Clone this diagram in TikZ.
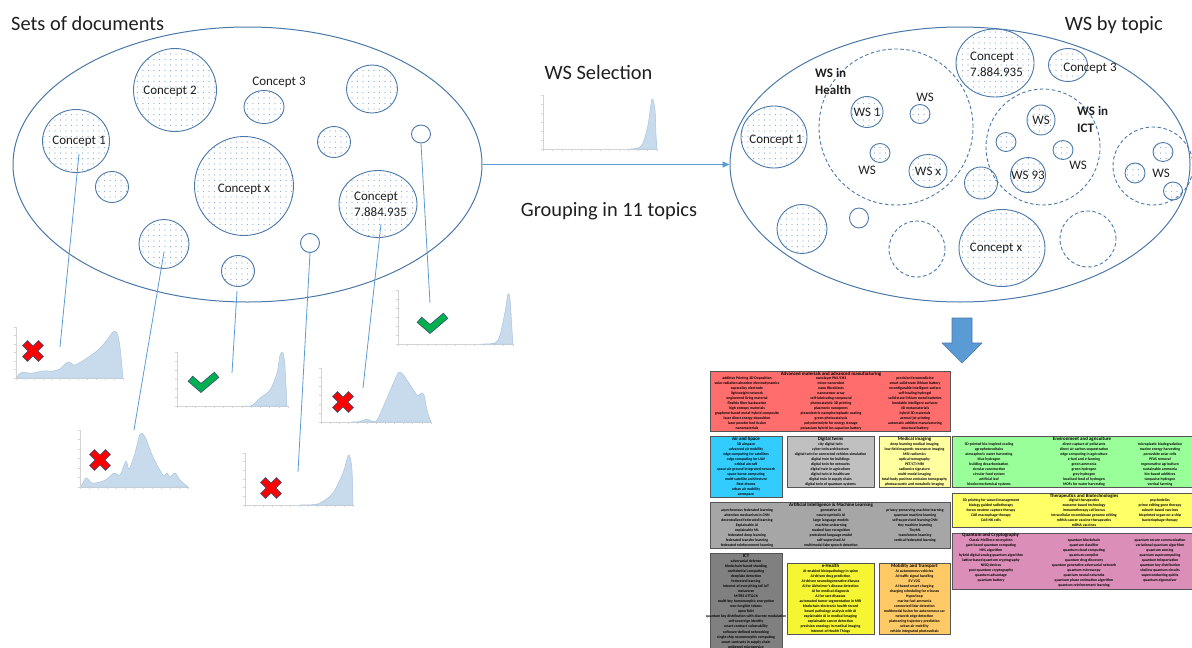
\documentclass[tikz,border=0pt]{standalone}
\usepackage{fontspec}
\setmainfont{Carlito}
\usetikzlibrary{shapes.geometric,arrows.meta,patterns.meta}
\definecolor{eline}{HTML}{4A78A8}
\definecolor{conn}{HTML}{5B9BD5}
\definecolor{dotc}{HTML}{86A8D4}
\definecolor{chfill}{HTML}{C8DBEC}
\definecolor{chline}{HTML}{A9C5E0}
\definecolor{axc}{HTML}{D4D4D4}
\definecolor{xout}{HTML}{3D4C6B}
\definecolor{xred}{HTML}{FF0000}
\definecolor{vgreen}{HTML}{00B050}
\definecolor{barrow}{HTML}{5B9BD5}
\definecolor{cRed}{HTML}{FF6D6D}
\definecolor{cBlue}{HTML}{33CCFF}
\definecolor{cLG}{HTML}{C0C0C0}
\definecolor{cMed}{HTML}{FFFFA0}
\definecolor{cEnv}{HTML}{99FF99}
\definecolor{cThe}{HTML}{FFFF66}
\definecolor{cQua}{HTML}{DA8EB8}
\definecolor{cAI}{HTML}{A6A6A6}
\definecolor{cICT}{HTML}{808080}
\definecolor{cEH}{HTML}{F5F533}
\definecolor{cMob}{HTML}{FFC966}
\definecolor{boxb}{HTML}{555555}
\newcommand{\chartax}[4]{%
  \draw[axc, line width=0.6pt] (#1,#2) -- (#1,#4) -- (#3,#4);
  \foreach \k in {0,...,12} {\draw[axc, line width=0.4pt] ({#1+\k*(#3-#1)/12},#4) -- ++(0,2);}
  \foreach \k in {0,...,6} {\draw[axc, line width=0.4pt] (#1,{#4-\k*(#4-#2)/6}) -- ++(-2,0);}
}
\tikzset{
  bub/.style={ellipse, draw=eline, line width=0.9pt, inner sep=0pt, pattern={Dots[distance=5.5pt,radius=0.65pt]}, pattern color=dotc},
  plainc/.style={ellipse, draw=eline, line width=0.9pt, inner sep=0pt},
  dashc/.style={ellipse, draw=eline, line width=0.9pt, inner sep=0pt, dash pattern=on 3.5pt off 2.5pt},
  bigell/.style={ellipse, draw=eline, line width=1pt, inner sep=0pt},
  head/.style={font=\fontsize{20.4}{24}\selectfont, text=black!88, inner sep=0pt},
  clbl/.style={font=\fontsize{13}{16}\selectfont, text=black!88, inner sep=0pt, align=center},
  clblb/.style={font=\fontsize{13}{16.5}\selectfont\bfseries, text=black!88, inner sep=0pt},
  link/.style={draw=conn, line width=0.8pt},
  chartfill/.style={fill=chfill, draw=chline, line width=0.5pt},
  tbox/.style={draw=boxb, line width=0.9pt, anchor=north west, inner sep=0pt},
  ttl/.style={font=\fontsize{4.9}{5}\selectfont\bfseries, inner sep=0pt},
  itm/.style={font=\fontsize{3.8}{5.07}\selectfont\bfseries, align=center, inner sep=0pt, anchor=north},
  pics/nox/.style={code={
    \draw[xout, line width=7.5pt, line cap=rect] (-5.5,-5.5) -- (5.5,5.5) (-5.5,5.5) -- (5.5,-5.5);
    \draw[xred, line width=6pt, line cap=rect] (-5.5,-5.5) -- (5.5,5.5) (-5.5,5.5) -- (5.5,-5.5);
  }},
  pics/yes/.style={code={
    \draw[xout, line width=7.5pt, line cap=rect, line join=miter] (-10,-1) -- (-2,6) -- (11,-5);
    \draw[vgreen, line width=6pt, line cap=rect, line join=miter] (-10,-1) -- (-2,6) -- (11,-5);
  }},
}
\begin{document}
\begin{tikzpicture}[x=1pt,y=-1pt]
\useasboundingbox (0,0) rectangle (1192,648);
\clip (0,0) rectangle (1192,648);

% headings
\node[head, anchor=base west] (hL) at (11,30) {Sets of documents};
\node[head, anchor=base east] (hR) at (1163,30) {WS by topic};
\node[head, anchor=base] (hS) at (598.5,79) {WS Selection};
\node[head, anchor=base] (hG) at (609,216) {Grouping in 11 topics};

% big ellipses
\node[bigell, minimum width=469pt, minimum height=275pt] (setL) at (247.5,164.5) {};
\node[bigell, minimum width=460pt, minimum height=275pt] (setR) at (960,164.5) {};
\draw[link, line width=0.9pt, -{Triangle[length=7pt,width=6pt]}] (setL.east) -- (setR.west);

% left concepts
\node[bub, minimum width=67pt, minimum height=63pt] (lc1) at (76,141) {};
\node[bub, minimum width=83pt, minimum height=83pt] (lc2) at (175,90) {};
\node[bub, minimum width=40pt, minimum height=33pt] (lc3) at (264,107) {};
\node[bub, minimum width=51pt, minimum height=48pt] (lur) at (372,89) {};
\node[bub, minimum width=33pt, minimum height=31pt] (lm) at (334,142) {};
\node[plainc, minimum width=19pt, minimum height=18pt] (lt1) at (421,134) {};
\node[bub, minimum width=99pt, minimum height=99pt] (lcx) at (244,186) {};
\node[bub, minimum width=78pt, minimum height=67pt] (lc7) at (378,204) {};
\node[bub, minimum width=33pt, minimum height=31pt] (ls) at (112,187) {};
\node[bub, minimum width=50pt, minimum height=49pt] (lb1) at (164,244) {};
\node[bub, minimum width=33pt, minimum height=31pt] (lb2) at (238,271) {};
\node[plainc, minimum width=19pt, minimum height=19pt] (lt2) at (310,243) {};
\node[clbl] (tl1) at (79,141) {Concept 1};
\node[clbl] (tl2) at (170,91) {Concept 2};
\node[clbl] (tl3) at (279,82) {Concept 3};
\node[clbl] (tlx) at (244,189) {Concept x};
\node[clbl, align=left, anchor=west] (tl7) at (354,204) {Concept\\7.884.935};

% charts
\chartax{16}{327}{123}{378}
\fill[chartfill] plot[smooth] coordinates {(17,378) (18,375) (23,372) (28,373) (33,373) (43,371) (53,371) (60,369) (68,362) (75,365) (87,358) (98,350) (107,340) (113,332) (117,333) (120,347) (123,378)} -- cycle;
\chartax{80}{430}{188}{487}
\fill[chartfill] plot[smooth] coordinates {(81,487) (86,478) (92,483) (100,482) (107,479) (114,473) (120,475) (126,461) (129,469) (135,453) (140,434) (145,437) (153,457) (163,475) (167,473) (170,477) (175,473) (180,480) (188,487)} -- cycle;
\chartax{177}{352}{288}{406}
\fill[chartfill] plot[smooth] coordinates {(243,406) (252,405.5) (260,398) (270,390) (277,373) (280,355) (283,353) (285,367) (287,406)} -- cycle;
\chartax{245}{453}{353}{505}
\fill[chartfill] plot[smooth] coordinates {(300,505) (315,504.5) (322,502) (333,493) (343,473) (348,456) (350,457) (352,470) (353,505)} -- cycle;
\chartax{321}{368}{431}{422}
\fill[chartfill] plot[smooth] coordinates {(352,422) (360,421.5) (367,419) (371,421) (377,420) (387,398) (397,375) (400,372) (405,377) (417,395) (421,393) (424,395) (427,410) (431,422)} -- cycle;
\chartax{398}{290}{513}{344}
\fill[chartfill] plot[smooth] coordinates {(480,344) (495,343) (500,335) (505,312) (508,294) (510,299) (512,330) (513,344)} -- cycle;
\chartax{543}{95}{657}{149}
\fill[chartfill] plot[smooth] coordinates {(630,149) (638,148) (643,143) (648,125) (652,99) (655,110) (656,135) (657,149)} -- cycle;

% icons
\pic at (33,351) {nox};
\pic at (100,460) {nox};
\pic at (203,382) {yes};
\pic at (271,488) {nox};
\pic at (343,402) {nox};
\pic at (432,323) {yes};

% connectors
\coordinate (s1) at (79,154); \coordinate (e1) at (60,347);
\coordinate (s2) at (164,252); \coordinate (e2) at (134,430);
\coordinate (s3) at (237,291); \coordinate (e3) at (232,373);
\coordinate (e4) at (298,472);
\coordinate (s5) at (381,224); \coordinate (e5) at (363,388);
\coordinate (e6) at (430,303);
\draw[link] (s1) -- (e1);
\draw[link] (s2) -- (e2);
\draw[link] (s3) -- (e3);
\draw[link] (lt2.south) -- (e4);
\draw[link] (s5) -- (e5);
\draw[link] (lt1.south) -- (e6);

% right ellipse content
\node[bub, minimum width=66pt, minimum height=62pt] (rc1) at (774,137) {};
\node[dashc, minimum width=154pt, minimum height=156pt] (hDash) at (896,127) {};
\node[bub, minimum width=32pt, minimum height=31pt] (ws1) at (867,112) {};
\node[bub, minimum width=20pt, minimum height=19pt] (wsA) at (920,114) {};
\node[bub, minimum width=20pt, minimum height=19pt] (wsB) at (880,153) {};
\node[bub, minimum width=38pt, minimum height=33pt] (wsx) at (928,171) {};
\node[bub, minimum width=78pt, minimum height=68pt] (rc7) at (995,63) {};
\node[bub, minimum width=39pt, minimum height=33pt] (rc3) at (1068,65) {};
\node[dashc, minimum width=114pt, minimum height=116pt] (iDash) at (1043,147) {};
\node[bub, minimum width=28pt, minimum height=30pt] (wsC) at (1041,120) {};
\node[bub, minimum width=20pt, minimum height=19pt] (wsD) at (1006,142) {};
\node[bub, minimum width=20pt, minimum height=19pt] (wsE) at (1063,150) {};
\node[bub, minimum width=35pt, minimum height=35pt] (ws93) at (1028,175) {};
\node[bub, minimum width=33pt, minimum height=32pt] (rcm) at (981,183) {};
\node[dashc, minimum width=80pt, minimum height=78pt] (oDash) at (1153,166) {};
\node[bub, minimum width=20pt, minimum height=19pt] (wsF) at (1163,152) {};
\node[bub, minimum width=20pt, minimum height=20pt] (wsG) at (1135,173) {};
\node[bub, minimum width=19pt, minimum height=18pt] (wsH) at (1173,191) {};
\node[bub, minimum width=50pt, minimum height=49pt] (rb1) at (802,229) {};
\node[plainc, minimum width=19pt, minimum height=20pt] (rt1) at (859,218) {};
\node[dashc, minimum width=56pt, minimum height=56pt] (dB1) at (917,249) {};
\node[bub, minimum width=86pt, minimum height=77pt] (rcx) at (1002,248) {};
\node[dashc, minimum width=56pt, minimum height=56pt] (dB2) at (1088,239) {};

\node[clbl] (tr1) at (776,140) {Concept 1};
\node[clbl, align=left, anchor=west] (tr7) at (970,64.5) {Concept\\7.884.935};
\node[clbl] (tr3) at (1090,68) {Concept 3};
\node[clbl] (trx) at (996,248) {Concept x};
\node[clblb, align=left, anchor=west] (tHe) at (815,81.5) {WS in\\Health};
\node[clblb, align=left, anchor=west] (tIc) at (1077,119.5) {WS in\\ICT};
\node[clbl] (tws1) at (ws1) {WS 1};
\node[clbl] (twsx) at (wsx) {WS x};
\node[clbl] (tws93) at (ws93) {WS 93};
\node[clbl] (twsc) at (wsC) {WS};
\node[clbl] (twsa) at (925,97) {WS};
\node[clbl] (twsb) at (867,170) {WS};
\node[clbl] (twse) at (1078,165) {WS};
\node[clbl] (twsf) at (1161,173) {WS};

% block arrow down
\draw[draw=eline, line width=0.6pt, fill=barrow] (952,318) -- (972,318) -- (972,343) -- (982,343) -- (962,363) -- (942,343) -- (952,343) -- cycle;

% topic boxes
\node[tbox, fill=cRed, minimum width=240pt, minimum height=60pt] (bAM) at (710,371) {};
\node[ttl] (tAM) at (831,374) {Advanced materials and advanced manufacturing};
\node[itm] (aAM1) at (747,376.2) {additive Printing 3D Deposition\\solar radiation absorber electrodynamics\\superalloy electrode\\lightweight network\\engineered living material\\flexible fiber backscatter\\high entropy materials\\graphene-based metal-hybrid composite\\laser direct energy deposition\\laser powder bed fusion\\nanomaterials};
\node[itm] (aAM2) at (831,376.2) {nanolayer PbS/CH3\\micro-nanorobot\\nano fibroblasts\\nanosensor array\\self-lubricating compound\\photocatalytic 3D printing\\plasmonic nanopores\\piezoelectric nanophotoplastic coating\\green photocatalysis\\polyelectrolyte for energy storage\\potassium hybrid ion capacitor battery};
\node[itm] (aAM3) at (915,376.2) {precision ferromedicine\\smart solid-state lithium battery\\reconfigurable intelligent surface\\self-healing hydrogel\\solid-state lithium metal batteries\\bendable intelligent surfaces\\4D metamaterials\\hybrid 3D materials\\aerosol jet printing\\automatic additive manufacturing\\structural battery};

\node[tbox, fill=cBlue, minimum width=72pt, minimum height=61pt] (bAS) at (710,436) {};
\node[ttl] (tAS) at (746,439) {Air and Space};
\node[itm] (aAS) at (746,442.2) {3D airspace\\advanced air mobility\\edge computing for satellites\\edge computing for UAV\\orbital aircraft\\space-air-ground integrated network\\space-borne computing\\multi-satellite architecture\\fleet drones\\urban air mobility\\aerospace};

\node[tbox, fill=cLG, minimum width=87pt, minimum height=51pt] (bDT) at (787,436) {};
\node[ttl] (tDT) at (830.5,439) {Digital twins};
\node[itm] (aDT) at (830.5,442.2) {city digital twin\\cyber twin architecture\\digital twin for connected vehicles simulation\\digital twin for buildings\\digital twin for networks\\digital twin in agriculture\\digital twin in healthcare\\digital twin in supply chain\\digital twin of quantum systems};

\node[tbox, fill=cMed, minimum width=71pt, minimum height=51pt] (bMI) at (879,436) {};
\node[ttl] (tMI) at (914.5,439) {Medical imaging};
\node[itm] (aMI) at (914.5,442.2) {deep learning medical imaging\\low-field magnetic resonance imaging\\MRI radiomics\\optical tomography\\PET/CT/MRI\\radiomics signature\\multi-modal imaging\\total-body positron emission tomography\\photoacoustic and metabolic imaging};

\node[tbox, fill=cEnv, minimum width=262pt, minimum height=51pt] (bEA) at (952,436) {};
\node[ttl] (tEA) at (1082,439) {Environment and agriculture};
\node[itm] (aEA1) at (989,442.2) {3D-printed bio-inspired cooling\\agrophotovoltaics\\atmospheric water harvesting\\blue hydrogen\\building decarbonization\\circular construction\\circular food system\\artificial leaf\\bioelectrochemical systems};
\node[itm] (aEA2) at (1084,442.2) {direct capture of pollutants\\direct air carbon sequestration\\edge computing in agriculture\\e-fuel and e-farming\\green ammonia\\green hydrogen\\grey hydrogen\\localised food of hydrogen\\MOFs for water harvesting};
\node[itm] (aEA3) at (1160,442.2) {microplastic biodegradation\\marine energy harvesting\\perovskite solar cells\\PFAS removal\\regenerative agriculture\\sustainable ammonia\\bio-based additives\\turquoise hydrogen\\vertical farming};

\node[tbox, fill=cThe, minimum width=263pt, minimum height=34pt] (bTB) at (952,493) {};
\node[ttl] (tTB) at (1084,496) {Therapeutics and Biotechnologies};
\node[itm] (aTB1) at (991,498.2) {3D printing for wound management\\biology guided radiotherapy\\boron neutron capture therapy\\CAR macrophage therapy\\CAR NK cells};
\node[itm] (aTB2) at (1084,498.2) {digital therapeutics\\exosome-based technology\\immunotherapy cell bonus\\intracellular recombinase genome editing\\mRNA cancer vaccine therapeutics\\mRNA vaccines};
\node[itm] (aTB3) at (1160,498.2) {psychedelics\\prime editing gene therapy\\subunit-based vaccines\\bioprinted organ-on-a-chip\\bacteriophage therapy};

\node[tbox, fill=cQua, minimum width=263pt, minimum height=56pt] (bQC) at (952,533) {};
\node[ttl, anchor=west] (tQC) at (962,535.5) {Quantum and Cryptography};
\node[itm] (aQC1) at (991,538.2) {Classic McEliece encryption\\gate based quantum computing\\HHL algorithm\\hybrid digital-analog quantum algorithm\\lattice-based quantum cryptography\\NISQ devices\\post-quantum cryptography\\quantum advantage\\quantum battery};
\node[itm] (aQC2) at (1084,538.2) {quantum blockchain\\quantum classifier\\quantum cloud computing\\quantum compiler\\quantum drug discovery\\quantum generative adversarial network\\quantum microscopy\\quantum neural networks\\quantum phase estimation algorithm\\quantum reinforcement learning};
\node[itm] (aQC3) at (1160,538.2) {quantum secure communication\\variational quantum algorithm\\quantum sensing\\quantum supercomputing\\quantum teleportation\\quantum key distribution\\shallow quantum circuits\\superconducting qubits\\quantum eigensolver};

\node[tbox, fill=cAI, minimum width=240pt, minimum height=46pt] (bAI) at (710,502) {};
\node[ttl] (tAI) at (831,505) {Artificial Intelligence \& Machine Learning};
\node[itm] (aAI1) at (747,508.2) {asynchronous federated learning\\attention mechanism in CNN\\decentralized federated learning\\Explainable AI\\explainable ML\\federated deep learning\\federated transfer learning\\federated reinforcement learning};
\node[itm] (aAI2) at (831,508.2) {generative AI\\neuro-symbolic AI\\large language models\\machine unlearning\\masked face recognition\\pretrained language model\\self-supervised AI\\multimodal fake speech detection};
\node[itm] (aAI3) at (915,508.2) {privacy-preserving machine learning\\quantum machine learning\\self-supervised learning CNN\\tiny machine learning\\TinyML\\transformer learning\\vertical federated learning};

\node[tbox, fill=cICT, minimum width=72pt, minimum height=110pt] (bIC) at (710,553) {};
\node[ttl] (tIC) at (746,556) {ICT};
\node[itm] (aIC) at (746,559.2) {adversarial defense\\blockchain-based sharding\\confidential computing\\deepfake detection\\federated learning\\Internet of everything IoE IoT\\metaverse\\MITRE ATT\&CK\\multi-key homomorphic encryption\\non-fungible tokens\\open RAN\\quantum key distribution with discrete modulation\\self-sovereign identity\\smart contract vulnerability\\software-defined networking\\single-chip neuromorphic computing\\smart contracts in supply chain\\unikernel microservice};

\node[tbox, fill=cEH, minimum width=87pt, minimum height=71pt] (bEH) at (787,563) {};
\node[ttl] (tEH) at (830.5,566) {e-Health};
\node[itm] (aEH) at (830.5,569.2) {AI-enabled histopathology in spine\\AI-driven drug prediction\\AI-driven neurodegenerative disease\\AI for Alzheimer's disease detection\\AI for medical diagnosis\\AI for rare diseases\\automated tumor segmentation in MRI\\blockchain electronic health record\\bowel pathology analysis with AI\\explainable AI in medical imaging\\explainable cancer detection\\precision oncology in medical imaging\\Internet of Health Things};

\node[tbox, fill=cMob, minimum width=71pt, minimum height=71pt] (bMT) at (879,563) {};
\node[ttl] (tMT) at (914.5,566) {Mobility and Transport};
\node[itm] (aMT) at (914.5,569.2) {AI autonomous vehicles\\AI traffic signal handling\\EV V2G\\AI-based smart charging\\charging scheduling for e-buses\\Hyperloop\\marine fuel ammonia\\connected lidar detection\\multimodal fusion for autonomous car\\network edge detection\\platooning trajectory prediction\\urban air mobility\\vehicle integrated photovoltaic};
\end{tikzpicture}
\end{document}
